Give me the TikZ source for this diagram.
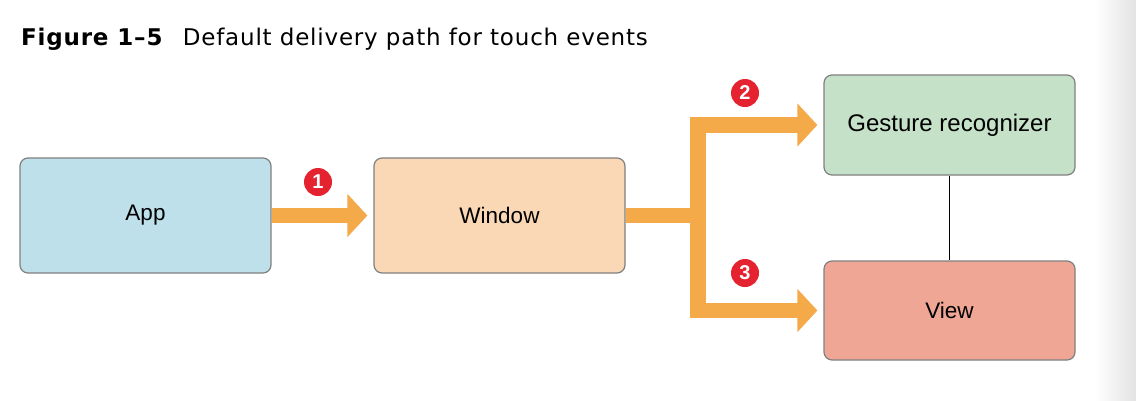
\documentclass[tikz,border=0pt]{standalone}
\usepackage{fontspec}
\setmainfont{Liberation Sans}
\newfontfamily\titlefont[LetterSpace=3.5]{DejaVu Sans}
\usetikzlibrary{arrows.meta}
\definecolor{appfill}{HTML}{BDE0EB}
\definecolor{winfill}{HTML}{FAD8B6}
\definecolor{gesfill}{HTML}{C5E2C9}
\definecolor{viewfill}{HTML}{EFA695}
\definecolor{boxborder}{HTML}{808080}
\definecolor{flow}{HTML}{F5AA4A}
\definecolor{badgered}{HTML}{E42230}
\tikzset{
  box/.style={draw=boxborder, line width=1.2pt, rounded corners=8pt,
    minimum width=251pt, minimum height=115pt, inner sep=0pt,
    font=\fontsize{22.5}{26}\selectfont},
  flowarrow/.style={draw=flow, line width=15.5pt, line join=miter,
    -{Triangle[width=42pt,length=20pt]}, shorten >=6pt},
  badge/.style={circle, fill=badgered, text=white, minimum size=28pt, inner sep=0pt,
    font=\bfseries\fontsize{20}{21}\selectfont},
}
\begin{document}
\begin{tikzpicture}[x=1pt,y=-1pt]
\useasboundingbox (0,0) rectangle (1136,400);
\fill[white] (0,0) rectangle (1136,400);
\shade[left color=white, right color=black!11] (1095,0) rectangle (1136,400);
\node[anchor=base west, inner sep=0pt, font=\titlefont\fontsize{23}{26}\selectfont] (title) at (21,45)
  {\textbf{Figure 1–5}\hspace{0.85em}Default delivery path for touch events};
\node[box, fill=appfill] (app) at (145.5,215.5) {App};
\node[box, fill=winfill] (win) at (499.5,215.5) {Window};
\node[box, fill=gesfill, minimum height=100pt, font=\fontsize{24}{26}\selectfont] (ges) at (949.5,125) {Gesture recognizer};
\node[box, fill=viewfill, minimum height=99pt] (view) at (949.5,310.5) {View};
\draw[black, line width=1.5pt] (ges.south) -- (view.north);
\coordinate (j) at (698,215.5);
\draw[flowarrow] (app.east) -- (win.west);
\draw[flowarrow] (win.east) -- (j) |- (ges.west);
\draw[flowarrow] (win.east) -- (j) |- (view.west);
\node[badge] (b1) at (318,182) {1};
\node[badge] (b2) at (745,93) {2};
\node[badge] (b3) at (745,273) {3};
\end{tikzpicture}
\end{document}
